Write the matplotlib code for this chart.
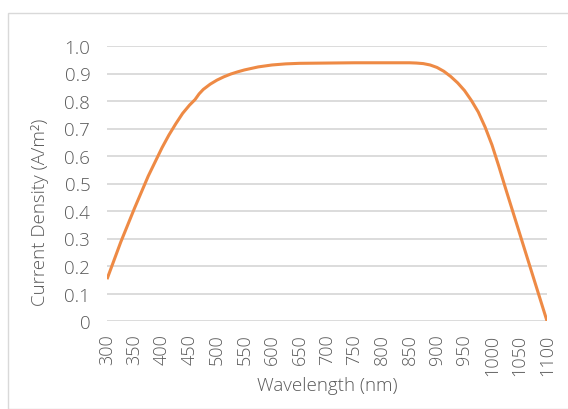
import matplotlib
matplotlib.use("Agg")
import matplotlib.pyplot as plt
from matplotlib.patches import Rectangle

wavelength = [300, 325, 350, 375, 400, 412.5, 425, 437.5, 450, 460, 467.5, 475, 487.5, 500,
              512.5, 525, 537.5, 550, 575, 600, 625, 650, 700, 750, 800, 850, 862.5, 875,
              887.5, 900, 912.5, 925, 937.5, 950, 962.5, 975, 987.5, 1000, 1012.5, 1025,
              1050, 1075, 1100]
current = [0.152, 0.287, 0.410, 0.527, 0.630, 0.676, 0.717, 0.755, 0.785, 0.805, 0.826, 0.842,
           0.861, 0.876, 0.888, 0.898, 0.906, 0.913, 0.924, 0.931, 0.935, 0.937, 0.938, 0.939,
           0.939, 0.939, 0.938, 0.936, 0.931, 0.922, 0.908, 0.889, 0.866, 0.838, 0.802, 0.760,
           0.705, 0.640, 0.562, 0.480, 0.320, 0.160, 0.0]
xticks = list(range(300, 1101, 50))
yticks = [0, 0.1, 0.2, 0.3, 0.4, 0.5, 0.6, 0.7, 0.8, 0.9, 1.0]
ylabels = ["0", "0.1", "0.2", "0.3", "0.4", "0.5", "0.6", "0.7", "0.8", "0.9", "1.0"]

plt.rcParams['font.family'] = ['Open Sans', 'DejaVu Sans']
wt = 'light'
txt = '#595959'
W, H = 568, 410
fig = plt.figure(figsize=(W/100, H/100), dpi=100)
fig.patches.append(Rectangle((8/W, 0), 1.0, 1 - 14/H, transform=fig.transFigure,
                             fill=False, edgecolor='#d9d9d9', linewidth=1.0))

ax = fig.add_axes([107/W, 1 - 322/H, 440/W, 275/H])
ax.plot(wavelength, current, color='#EE8A45', linewidth=2.2, solid_capstyle='butt',
        solid_joinstyle='round')
ax.set_xlim(300, 1100)
ax.set_ylim(0, 1.0)
ax.set_xticks(xticks)
ax.set_xticklabels([str(v) for v in xticks], rotation=90, fontsize=13, color=txt, fontweight=wt)
ax.set_yticks(yticks)
ax.set_yticklabels(ylabels, fontsize=13.5, color=txt, fontweight=wt)
ax.tick_params(axis='both', length=0)
ax.tick_params(axis='y', pad=12)
ax.tick_params(axis='x', pad=9)
for s in ax.spines.values():
    s.set_visible(False)
ax.yaxis.grid(True, color='#d9d9d9', linewidth=1.3)
ax.set_axisbelow(True)

fig.text(327/W, 1 - 386/H, 'Wavelength (nm)', ha='center', va='center', fontsize=13.5,
         color=txt, fontweight=wt)
fig.text(40/W, 1 - 212/H, 'Current Density (A/m²)', ha='center', va='center', rotation=90,
         fontsize=13.5, color=txt, fontweight=wt)

fig.savefig('out.png', dpi=100)
